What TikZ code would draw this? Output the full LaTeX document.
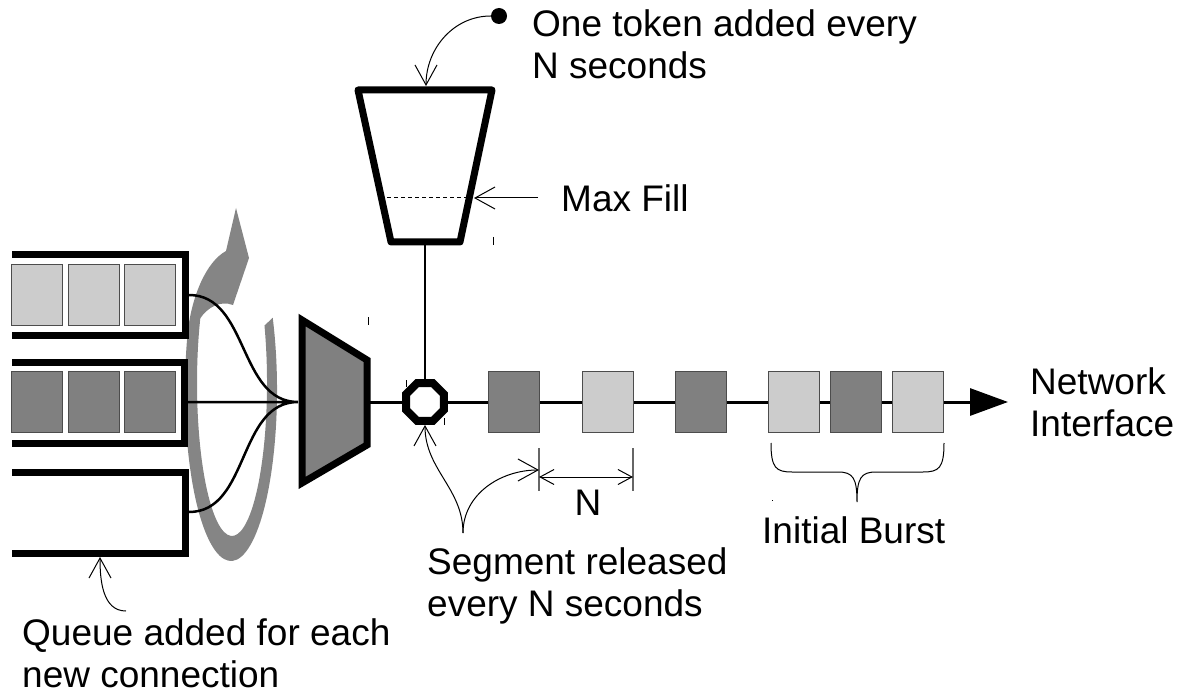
\documentclass[tikz,border=0pt]{standalone}
\usepackage{fontspec}
\setmainfont{Liberation Sans}
\usetikzlibrary{arrows.meta,shapes.geometric}

\definecolor{pktlight}{HTML}{CCCCCC}
\definecolor{pktdark}{HTML}{808080}
\definecolor{ringgray}{HTML}{858585}

\begin{document}
\begin{tikzpicture}[x=1pt,y=-1pt,
    pkt/.style={rectangle,draw=black!70,line width=1pt,inner sep=0pt,minimum width=51pt,minimum height=61pt},
    pktL/.style={pkt,fill=pktlight},
    pktD/.style={pkt,fill=pktdark},
    wall/.style={line width=7pt},
    barb/.style={line width=1pt,-{Straight Barb[length=20pt,width=22pt]}},
    lbl/.style={font=\fontsize{37}{42}\selectfont,align=left,inner sep=0pt,anchor=base west}]
    \useasboundingbox (0,0) rectangle (1178,695);

    % round robin arrow
    \fill[ringgray] (272.7,317.7) arc[start angle=-25,end angle=200,x radius=46,y radius=171]
    .. controls (192,296) and (206,262) .. (226,251) -- (236,208) -- (249,258) -- (233,305)
    .. controls (220,300) and (207,308) .. (200.3,318.3)
    arc[start angle=205,end angle=-22,x radius=35,y radius=153] -- cycle;

    % queues
    \draw[wall] (12,254) -- (185,254) -- (185,335.5) -- (12,335.5);
    \draw[wall] (12,362) -- (184,362) -- (184,443) -- (12,443);
    \draw[wall] (12,472) -- (185,472) -- (185,553) -- (12,553);

    \node (qa1) at (37,295) [pktL] {};
    \node (qa2) at (93.5,295) [pktL] {};
    \node (qa3) at (150,295) [pktL] {};
    \node (qb1) at (37,402) [pktD] {};
    \node (qb2) at (93.5,402) [pktD] {};
    \node (qb3) at (150,402) [pktD] {};

    \coordinate (qaout) at (189,295);
    \coordinate (qbout) at (185,402);
    \coordinate (qcout) at (189,512);
    \coordinate (muxin) at (298,402);
    \coordinate (muxout) at (367,402);

    \draw[line width=2.5pt]
    (qaout) to [out=0,in=180] (muxin)
    (qbout) to (muxin)
    (qcout) to [out=0,in=180] (muxin);

    % scheduler
    \draw[wall,fill=pktdark] (302,320) -- (367,360) -- (367,445) -- (302,483) -- cycle;

    \node (oct) at (425,402) [regular polygon,regular polygon sides=8,minimum size=41pt,inner sep=0pt,draw,line width=8pt,fill=white] {};
    \coordinate (nic) at (1008,402);

    \draw[line width=3pt] (muxout) -- (oct);
    \draw[line width=3pt,-{Triangle[length=38pt,width=27pt]}] (oct) -- (nic);

    \node (s1) at (514,402) [pktD] {};
    \node (s2) at (607.5,402) [pktL] {};
    \node (s3) at (700.5,402) [pktD] {};
    \node (b1) at (794,402) [pktL] {};
    \node (b2) at (855.5,402) [pktD] {};
    \node (b3) at (917.5,402) [pktL] {};

    % token bucket
    \coordinate (bktbot) at (425,242);
    \coordinate (bkttop) at (426,86);
    \draw[line width=2.5pt] (bktbot) -- (oct);
    \draw[wall,line join=round] (358,90) -- (492,90) -- (460,242) -- (391,242) -- cycle;
    \draw[line width=1pt,dash pattern=on 4pt off 3pt] (387,198) -- (468,198);

    \node (token) at (499,16) [fill,circle,inner sep=0pt,minimum size=16pt] {};
    \draw[barb] (token.west) to [out=180,in=90] (bkttop);
    \node (toklbl) at (532,79) [lbl] {One token added every\\N seconds};

    \coordinate (maxtail) at (538,198);
    \coordinate (maxtip) at (474,198);
    \draw[barb] (maxtail) -- (maxtip);
    \node (maxlbl) at (561,212) [lbl] {Max Fill};

    \node (niclbl) at (1030,436) [lbl] {Network\\Interface};

    % spacing
    \draw[line width=1.2pt,black!60] (539,448) -- (539,491) (633,448) -- (633,491);
    \coordinate (nA) at (539,477);
    \coordinate (nB) at (633,477);
    \draw[line width=1pt,{Straight Barb[length=14pt,width=15pt]}-{Straight Barb[length=14pt,width=15pt]}] (nA) -- (nB);
    \node (nlbl) at (588,515) [lbl,anchor=base] {N};

    \coordinate (segtop) at (463,533);
    \coordinate (nhit) at (539,470);
    \draw[barb] (segtop) to [out=90,in=-90] (oct.south);
    \draw[barb] (segtop) to [out=90,in=180] (nhit);
    \node (seglbl) at (427,616) [lbl] {Segment released\\every N seconds};

    % burst
    \draw[line width=1pt]
    (771,443) .. controls (771,468) and (776,472) .. (792,472) -- (838,472) .. controls (853,472) and (857,478) .. (857,502)
    (944,443) .. controls (944,468) and (939,472) .. (923,472) -- (876,472) .. controls (861,472) and (857,478) .. (857,502);
    \node (burstlbl) at (762,543) [lbl] {Initial Burst};

    % new queue
    \coordinate (qtail) at (126,611);
    \coordinate (qtip) at (100,557);
    \draw[barb] (qtail) to [out=180,in=-90] (qtip);
    \node (qlbl) at (22,687) [lbl] {Queue added for each\\new connection};

    % stray marks
    \draw[line width=1pt]
    (493,237) -- (493,245)
    (368,317) -- (368,325)
    (406,380) -- (406,387)
    (444,418) -- (444,425)
    (772,500) -- (773,500);
\end{tikzpicture}
\end{document}
